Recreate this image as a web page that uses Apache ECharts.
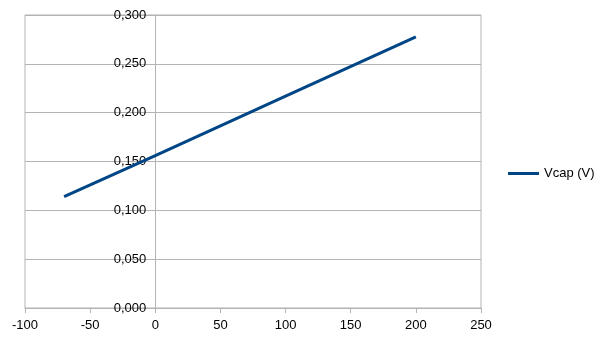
<!DOCTYPE html>
<html>
<head>
<meta charset="utf-8">
<script src="https://cdn.jsdelivr.net/npm/echarts@6/dist/echarts.min.js"></script>
<style>html,body{margin:0;padding:0;background:#fff}#c{width:605px;height:340px}</style>
</head>
<body>
<div id="c"></div>
<script>
var seriesName = 'Vcap (V)';
var xValues = [-70, 0, 100, 200];
var vcap = [0.114, 0.156, 0.217, 0.2775];
var xTicks = {min: -100, max: 250, interval: 50};
var yTicks = {min: 0, max: 0.3, interval: 0.05};

var chart = echarts.init(document.getElementById('c'));
var font = '"Liberation Sans", Arial, sans-serif';
var gridLeft = 25, gridRight = 124;
var plotWidth = 605 - gridLeft - gridRight;
// place the y axis where x = 0 (axis crossing as in the reference)
var zeroOffset = -plotWidth * (0 - xTicks.min) / (xTicks.max - xTicks.min);
chart.setOption({
  animation: false,
  backgroundColor: '#ffffff',
  grid: {left: gridLeft, right: gridRight, top: 15, bottom: 32, show: true, borderColor: '#b3b3b3', borderWidth: 1,
    outerBoundsMode: 'none', containLabel: false},
  legend: {
    data: [seriesName], orient: 'vertical', left: 503, top: 162,
    icon: 'rect', itemWidth: 31, itemHeight: 3, itemGap: 5,
    textStyle: {fontFamily: font, fontSize: 13, color: '#000'}
  },
  xAxis: {
    type: 'value', min: xTicks.min, max: xTicks.max, interval: xTicks.interval,
    axisLine: {show: true, onZero: false, lineStyle: {color: '#b3b3b3'}},
    axisTick: {show: true, length: 5, lineStyle: {color: '#b3b3b3'}},
    splitLine: {show: false},
    axisLabel: {fontFamily: font, fontSize: 13, color: '#000', margin: 11}
  },
  yAxis: {
    type: 'value', min: yTicks.min, max: yTicks.max, interval: yTicks.interval,
    position: 'left', offset: zeroOffset,
    axisLine: {show: true, onZero: false, lineStyle: {color: '#b3b3b3'}},
    axisTick: {show: true, length: 5, lineStyle: {color: '#b3b3b3'}},
    splitLine: {show: true, lineStyle: {color: '#b3b3b3'}},
    axisLabel: {fontFamily: font, fontSize: 13, color: '#000', margin: 9,
      formatter: function (v) { return v.toFixed(3).replace('.', ','); }}
  },
  series: [{
    name: seriesName, type: 'line',
    data: xValues.map(function (x, i) { return [x, vcap[i]]; }),
    showSymbol: false, symbol: 'none',
    lineStyle: {color: '#004586', width: 3},
    itemStyle: {color: '#004586'}
  }]
});
</script>
</body>
</html>
